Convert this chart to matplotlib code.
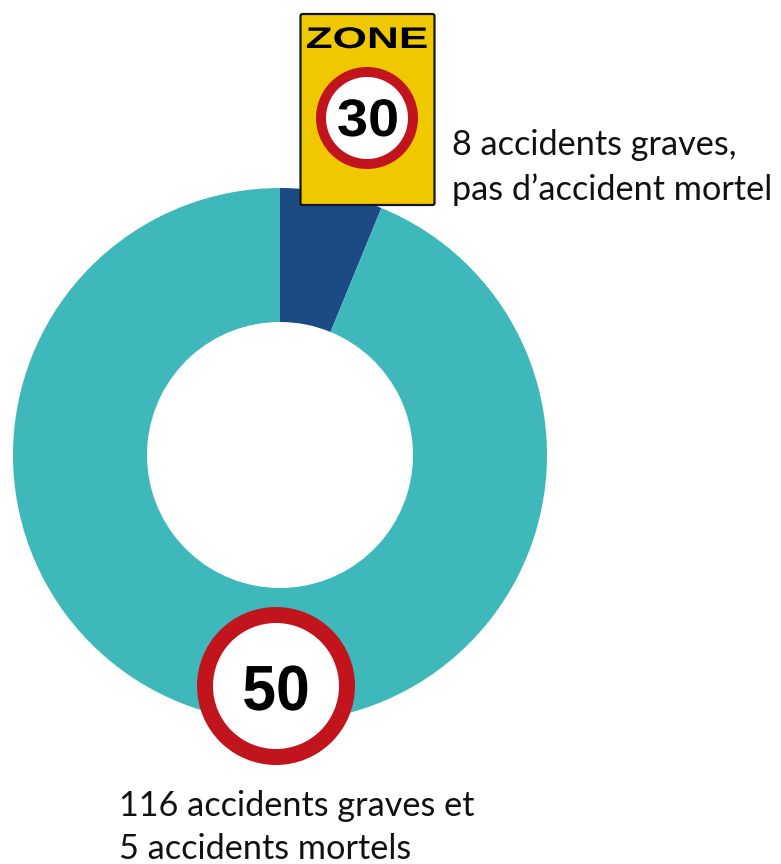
import matplotlib
matplotlib.use("Agg")
import matplotlib.pyplot as plt
import matplotlib.patheffects as pe
from matplotlib.patches import Circle, FancyBboxPatch
from matplotlib.transforms import Affine2D

W, H = 781, 864

categories = ["Zone 30", "Zone 50"]
values = [8, 121]  # 8 graves ; 116 graves + 5 mortels
colors = ["#1B4A85", "#3FB8BC"]
label_30 = ["8 accidents graves,", "pas d\u2019accident mortel"]
label_50 = ["116 accidents graves et", "5 accidents mortels"]

RED = "#C1141C"
YELLOW = "#F0C800"


class StretchX(pe.AbstractPathEffect):
    """Scale glyphs horizontally around a display x position."""
    def __init__(self, factor, cx):
        super().__init__()
        self.factor, self.cx = factor, cx

    def draw_path(self, renderer, gc, tpath, affine, rgbFace=None):
        t = affine + Affine2D().translate(-self.cx, 0).scale(self.factor, 1).translate(self.cx, 0)
        renderer.draw_path(gc, tpath, t, rgbFace)


def Y(py):
    return H - py


fig = plt.figure(figsize=(W / 100, H / 100), dpi=100, facecolor="white")
ax = fig.add_axes([0, 0, 1, 1])

ax.pie(values, colors=colors, center=(280, Y(455)), radius=267, startangle=90,
       counterclock=False, wedgeprops=dict(width=134, linewidth=0), frame=False)
ax.set_xlim(0, W)
ax.set_ylim(0, H)
ax.set_aspect("equal")
ax.axis("off")

# Zone 30 sign
ax.add_patch(FancyBboxPatch((300.5, Y(205)), 134, 191, boxstyle="round,pad=0,rounding_size=2",
                            fc=YELLOW, ec="#151515", lw=1.6, zorder=3))
ax.text(367, Y(48), "ZONE", family="Liberation Sans", weight="bold", fontsize=21.5,
        ha="center", va="baseline", color="black", zorder=5,
        path_effects=[StretchX(1.48, 367)])
ax.add_patch(Circle((367, Y(118)), 46, fc="white", ec=RED, lw=7.2, zorder=4))
ax.text(368, Y(136), "30", family="Liberation Sans", weight="bold", fontsize=38,
        ha="center", va="baseline", color="black", zorder=5,
        path_effects=[StretchX(1.06, 368)])

# 50 sign
ax.add_patch(Circle((276, Y(686)), 71, fc="white", ec=RED, lw=11.5, zorder=4))
ax.text(276, Y(710), "50", family="Liberation Sans", weight="bold", fontsize=46,
        ha="center", va="baseline", color="black", zorder=5,
        path_effects=[StretchX(0.95, 276)])

# Labels
txt = dict(family="Lato", fontsize=24.7, color="#111111", ha="left", va="baseline", zorder=6)
ax.text(452, Y(155), label_30[0], **txt)
ax.text(452, Y(200), label_30[1], **txt)
ax.text(119, Y(816), label_50[0], **txt)
ax.text(119, Y(859), label_50[1], **txt)

fig.savefig("out.png", dpi=100, facecolor="white")
